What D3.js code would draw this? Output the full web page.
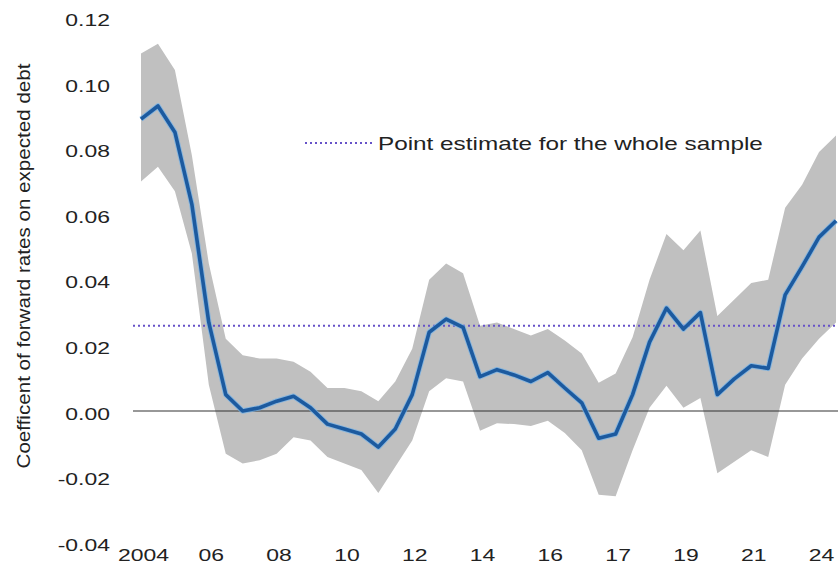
<!DOCTYPE html>
<html>
<head>
<meta charset="utf-8">
<script src="https://cdn.jsdelivr.net/npm/d3@7"></script>
<style>
  html, body { margin: 0; padding: 0; background: #fff; }
  svg { display: block; }
  text { font-family: "Liberation Sans", Arial, sans-serif; fill: #222; }
</style>
</head>
<body>
<svg id="chart" width="838" height="576"></svg>
<script>
// Rolling-window coefficient of forward rates on expected debt (semi-annual windows)
const coefficient = [
  0.089, 0.093, 0.085, 0.063, 0.027, 0.005, 0.000, 0.001, 0.003, 0.0045,
  0.001, -0.004, -0.0055, -0.007, -0.011, -0.0055, 0.005, 0.024, 0.028, 0.0255,
  0.0105, 0.0126, 0.011, 0.009, 0.0117, 0.007, 0.0025, -0.0083, -0.007, 0.005,
  0.021, 0.0314, 0.025, 0.030, 0.005, 0.0098, 0.0138, 0.013, 0.0354, 0.044,
  0.053, 0.058
];
const upperBound = [
  0.109, 0.112, 0.104, 0.078, 0.045, 0.022, 0.017, 0.016, 0.016, 0.015,
  0.012, 0.007, 0.007, 0.006, 0.003, 0.009, 0.019, 0.040, 0.045, 0.042,
  0.026, 0.027, 0.025, 0.023, 0.025, 0.0215, 0.0175, 0.0086, 0.0114, 0.0225,
  0.040, 0.054, 0.049, 0.055, 0.029, 0.034, 0.039, 0.040, 0.062, 0.069,
  0.079, 0.084
];
const lowerBound = [
  0.070, 0.0745, 0.067, 0.048, 0.008, -0.013, -0.016, -0.015, -0.013, -0.008,
  -0.009, -0.014, -0.016, -0.018, -0.025, -0.017, -0.009, 0.006, 0.010, 0.009,
  -0.006, -0.0037, -0.004, -0.0046, -0.003, -0.0067, -0.012, -0.0255, -0.026, -0.012,
  0.001, 0.0077, 0.001, 0.004, -0.019, -0.0155, -0.012, -0.014, 0.008, 0.016,
  0.022, 0.027
];
const wholeSampleEstimate = 0.026;
const xTickIndex = [0, 4, 8, 12, 16, 20, 24, 28, 32, 36, 40];
const xTickLabels = ["2004", "06", "08", "10", "12", "14", "16", "17", "19", "21", "24"];
const yTicks = [-0.04, -0.02, 0.00, 0.02, 0.04, 0.06, 0.08, 0.10, 0.12];
const legendLabel = "Point estimate for the whole sample";
const yTitle = "Coefficent of forward rates on expected debt";

const svg = d3.select("#chart");
const stretch = 1.35;

const x = d3.scaleLinear().domain([0, coefficient.length - 1]).range([141, 836]);
const y = d3.scaleLinear().domain([-0.04, 0.12]).range([542.2, 17.4]);

const idx = d3.range(coefficient.length);

// confidence band
const band = d3.area()
  .x(i => x(i))
  .y0(i => y(lowerBound[i]))
  .y1(i => y(upperBound[i]));
svg.append("path")
  .datum(idx)
  .attr("d", band)
  .attr("fill", "#c0c0c0");

// zero line
svg.append("line")
  .attr("x1", 133).attr("x2", 838)
  .attr("y1", y(0)).attr("y2", y(0))
  .attr("stroke", "#333").attr("stroke-width", 1.2);

// whole-sample estimate
svg.append("line")
  .attr("x1", x(0) - 8).attr("x2", 838)
  .attr("y1", y(wholeSampleEstimate)).attr("y2", y(wholeSampleEstimate))
  .attr("stroke", "#6652c8").attr("stroke-width", 2)
  .attr("stroke-dasharray", "2,3");

// coefficient line
const line = d3.line().x(i => x(i)).y(i => y(coefficient[i]));
svg.append("path")
  .datum(idx)
  .attr("d", line)
  .attr("fill", "none")
  .attr("stroke", "#6fb0ea").attr("stroke-width", 5.5)
  .attr("stroke-linejoin", "round").attr("opacity", 0.7);
svg.append("path")
  .datum(idx)
  .attr("d", line)
  .attr("fill", "none")
  .attr("stroke", "#1c5a9f").attr("stroke-width", 3.6)
  .attr("stroke-linejoin", "round");

// y axis (plain hyphen for negatives)
const fmt = d3.format(".2f");
const yAxis = svg.append("g")
  .attr("transform", "translate(110,0)")
  .call(d3.axisLeft(y).tickValues(yTicks)
    .tickFormat(d => fmt(d).replace("\u2212", "-")).tickSize(0).tickPadding(0));
yAxis.select(".domain").remove();
yAxis.selectAll("text")
  .attr("x", 0).attr("dy", null)
  .attr("y", 8)
  .attr("transform", `scale(${stretch},1)`)
  .style("font-size", "17px")
  .style("font-family", "'Liberation Sans', Arial, sans-serif")
  .attr("fill", "#222");

// x axis
const xAxis = svg.append("g")
  .attr("transform", "translate(0,561)")
  .call(d3.axisBottom(x).tickValues(xTickIndex)
    .tickFormat((d, i) => xTickLabels[i]).tickSize(0).tickPadding(0));
xAxis.select(".domain").remove();
xAxis.selectAll("text")
  .attr("y", 0).attr("dy", null)
  .attr("transform", `translate(2,0) scale(${stretch},1)`)
  .style("font-size", "17px")
  .style("font-family", "'Liberation Sans', Arial, sans-serif")
  .attr("fill", "#222");

// y axis title
svg.append("text")
  .attr("transform", "translate(30,266) rotate(-90)")
  .attr("text-anchor", "middle")
  .attr("textLength", 405)
  .attr("lengthAdjust", "spacingAndGlyphs")
  .style("font-size", "19px")
  .text(yTitle);

// legend
svg.append("line")
  .attr("x1", 305).attr("x2", 372)
  .attr("y1", 143).attr("y2", 143)
  .attr("stroke", "#6652c8").attr("stroke-width", 2)
  .attr("stroke-dasharray", "2,3");
svg.append("text")
  .attr("transform", `translate(378,150) scale(${stretch},1)`)
  .style("font-size", "18px")
  .text(legendLabel);
</script>
</body>
</html>
